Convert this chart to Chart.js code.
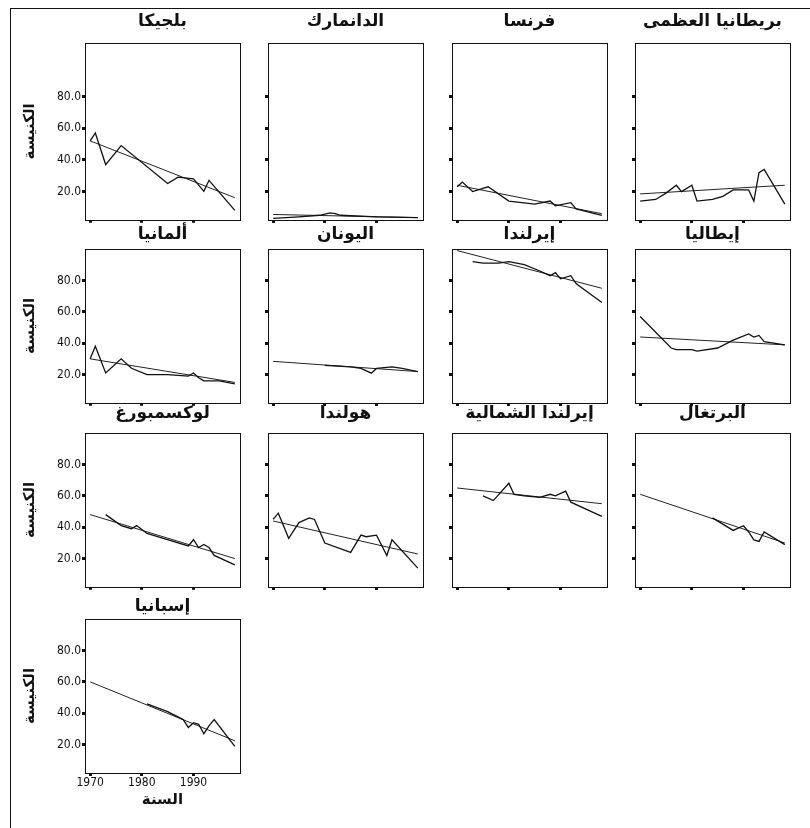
<!DOCTYPE html>
<html lang="ar">
<head>
    <meta charset="UTF-8">
    <title>الكنيسة حسب السنة</title>
    <script src="https://cdn.jsdelivr.net/npm/chart.js"></script>
    <style>
        body { margin: 0; background: #fff; }
        .page { position: relative; width: 810px; height: 828px; overflow: hidden; }
        .frame { position: absolute; left: 10px; top: 8px; right: 0; bottom: -2px;
                 border-left: 1.5px solid #111; border-top: 1.5px solid #111; }
        canvas { position: absolute; }
    </style>
</head>
<body>
    <div class="page" id="page">
        <div class="frame"></div>
    </div>

    <script>
        // data (church attendance, %)
        const years = [1970, 1971, 1972, 1973, 1974, 1975, 1976, 1977, 1978, 1979,
                       1980, 1981, 1982, 1983, 1984, 1985, 1986, 1987, 1988, 1989,
                       1990, 1991, 1992, 1993, 1994, 1995, 1996, 1997, 1998];

        const countries = ['بلجيكا', 'الدانمارك', 'فرنسا', 'بريطانيا العظمى',
                           'ألمانيا', 'اليونان', 'إيرلندا', 'إيطاليا',
                           'لوكسمبورغ', 'هولندا', 'إيرلندا الشمالية', 'البرتغال',
                           'إسبانيا'];

        const belgium     = [52, 57, null, 37, null, null, 49, null, null, null, null, null, null, null, null, 25, null, 29, null, null, 28, null, 20, 27, null, null, null, null, 8];
        const denmark     = [3, null, null, null, null, 4, null, null, null, 5, null, 6.5, 6, 5, null, null, null, null, null, null, 4, null, null, null, null, null, null, null, 3.5];
        const france      = [23, 26, null, 20, null, null, 23, null, null, null, 14, null, null, null, null, 12, null, null, 14, 11, null, null, 13, 9, null, null, null, null, 5];
        const britain     = [14, null, null, 15, null, 19, null, 24, 20, null, 24, 14, null, null, 15, null, 17, null, 21, null, null, 21, 14, 32, 34, null, null, null, 12];
        const germany     = [30, 38, null, 21, null, null, 30, null, 24, null, null, 20, null, null, null, 20, null, null, null, 19, 21, 18, 16, null, null, 16, null, null, 14];
        const greece      = [null, null, null, null, null, null, null, null, null, null, 26, null, null, null, null, 25, null, 24, null, 21, 24, null, null, 25, null, 24, null, null, 22];
        const ireland     = [null, null, null, 92, null, 91, null, null, 91, null, 92, null, null, 90, null, null, 86, null, 83, 85, 81, null, 83, 78, null, null, null, null, 66];
        const italy       = [57, null, null, null, null, null, 37, 36, null, null, 36, 35, null, null, null, 37, null, null, 42, null, null, 46, 44, 45, 41, null, null, null, 39];
        const luxembourg  = [null, null, null, 48, null, null, 41, null, 39, 41, null, 36, null, null, 33, null, null, null, null, 28, 32, 27, 29, 27, 22, null, null, null, 16];
        const netherlands = [45, 49, null, 33, null, 43, null, 46, 45, null, 30, null, null, null, null, 24, null, 35, 34, null, 35, null, 22, 32, null, null, null, null, 14];
        const nIreland    = [null, null, null, null, null, 60, null, 57, null, null, 68, 61, null, 60, null, null, 59, null, 61, 60, null, 63, 56, null, null, null, null, null, 47];
        const portugal    = [null, null, null, null, null, null, null, null, null, null, null, null, null, null, 46, null, null, null, 38, null, 41, 37, 32, 31, 37, null, null, null, 29];
        const spain       = [null, null, null, null, null, null, null, null, null, null, null, 46, null, null, null, 41, null, null, 36, 31, 34, 33, 27, 32, 36, null, null, null, 19];

        const series = [belgium, denmark, france, britain, germany, greece, ireland,
                        italy, luxembourg, netherlands, nIreland, portugal, spain];

        // fitted straight lines (value at 1970 and at 1998)
        const trendYears = [1970, 1998];
        const trendStart = [52, 5.5, 24, 18.5, 30, 28.5, 99, 44, 48, 44, 65, 61, 60];
        const trendEnd   = [16, 3.5, 6, 24, 15, 22, 75, 39, 20, 23, 55, 30, 22.5];

        const yTicks = [20, 40, 60, 80];
        const xTicks = [1970, 1980, 1990];

        // panel grid (the first row of the scan has a taller frame)
        const colLefts = [85, 268, 452, 635];
        const rowTops = [43, 249, 433, 619];
        const rowHeights = [177, 154, 154, 154];
        const rowMax = [114, 100, 100, 100];
        const titleGap = [21, 14, 19, 12];
        const plotW = 155, topPad = 50;

        const panelTitle = {
            id: 'panelTitle',
            afterDraw(chart, args, opts) {
                const { ctx, chartArea: a } = chart;
                ctx.save();
                ctx.strokeStyle = '#111';
                ctx.lineWidth = 1;
                ctx.strokeRect(Math.round(a.left) + 0.5, Math.round(a.top) + 0.5,
                               Math.round(a.right - a.left), Math.round(a.bottom - a.top));
                ctx.fillStyle = '#111';
                ctx.font = 'bold 17px "DejaVu Sans"';
                ctx.textAlign = 'center';
                ctx.textBaseline = 'middle';
                ctx.fillText(opts.text, (a.left + a.right) / 2, a.top - opts.gap);
                ctx.restore();
            }
        };

        const page = document.getElementById('page');

        countries.forEach((name, i) => {
            const row = Math.floor(i / 4), col = i % 4;
            const showY = col === 0;
            const showX = i === countries.length - 1;
            const yW = showY ? 76 : 10;
            const xH = showX ? 36 : 8;

            const canvas = document.createElement('canvas');
            canvas.width = yW + plotW + 6;
            canvas.height = topPad + rowHeights[row] + xH;
            canvas.style.left = (colLefts[col] - yW) + 'px';
            canvas.style.top = (rowTops[row] - topPad) + 'px';
            page.appendChild(canvas);

            const observed = years
                .map((y, k) => ({ x: y, y: series[i][k] }))
                .filter(p => p.y !== null);
            const trend = trendYears.map((y, k) => ({ x: y, y: k === 0 ? trendStart[i] : trendEnd[i] }));

            new Chart(canvas, {
                type: 'line',
                data: {
                    datasets: [
                        { data: observed, borderColor: '#111', borderWidth: 1.3, pointRadius: 0, tension: 0 },
                        { data: trend, borderColor: '#222', borderWidth: 1, pointRadius: 0 }
                    ]
                },
                options: {
                    responsive: false,
                    animation: false,
                    layout: { padding: { top: topPad, right: 6, left: 0, bottom: 0 } },
                    plugins: {
                        legend: { display: false },
                        tooltip: { enabled: false },
                        panelTitle: { text: name, gap: titleGap[row] }
                    },
                    scales: {
                        x: {
                            type: 'linear',
                            min: 1969, max: 1999,
                            afterBuildTicks: s => { s.ticks = xTicks.map(v => ({ value: v })); },
                            afterFit: s => { s.height = xH; },
                            border: { display: false },
                            grid: { drawOnChartArea: false, drawTicks: true, tickLength: 3, tickWidth: 3, color: '#111' },
                            ticks: {
                                display: showX,
                                callback: v => String(v),
                                color: '#111',
                                padding: 0,
                                maxRotation: 0,
                                font: { family: '"Liberation Sans Narrow", "DejaVu Sans Condensed", sans-serif', size: 12 }
                            },
                            title: {
                                display: showX,
                                text: 'السنة',
                                color: '#111',
                                padding: { top: 0, bottom: 0 },
                                font: { family: '"DejaVu Sans"', size: 15, weight: 'bold' }
                            }
                        },
                        y: {
                            min: 2, max: rowMax[row],
                            afterBuildTicks: s => { s.ticks = yTicks.map(v => ({ value: v })); },
                            afterFit: s => { s.width = yW; },
                            border: { display: false },
                            grid: { drawOnChartArea: false, drawTicks: true, tickLength: 3, tickWidth: 3, color: '#111' },
                            ticks: {
                                display: showY,
                                callback: v => v.toFixed(1),
                                color: '#111',
                                padding: 1,
                                font: { family: '"Liberation Sans Narrow", "DejaVu Sans Condensed", sans-serif', size: 12 }
                            },
                            title: {
                                display: showY,
                                text: 'الكنيسة',
                                color: '#111',
                                padding: { top: 12 },
                                font: { family: '"DejaVu Sans"', size: 15, weight: 'bold' }
                            }
                        }
                    }
                },
                plugins: [panelTitle]
            });
        });
    </script>
</body>
</html>
